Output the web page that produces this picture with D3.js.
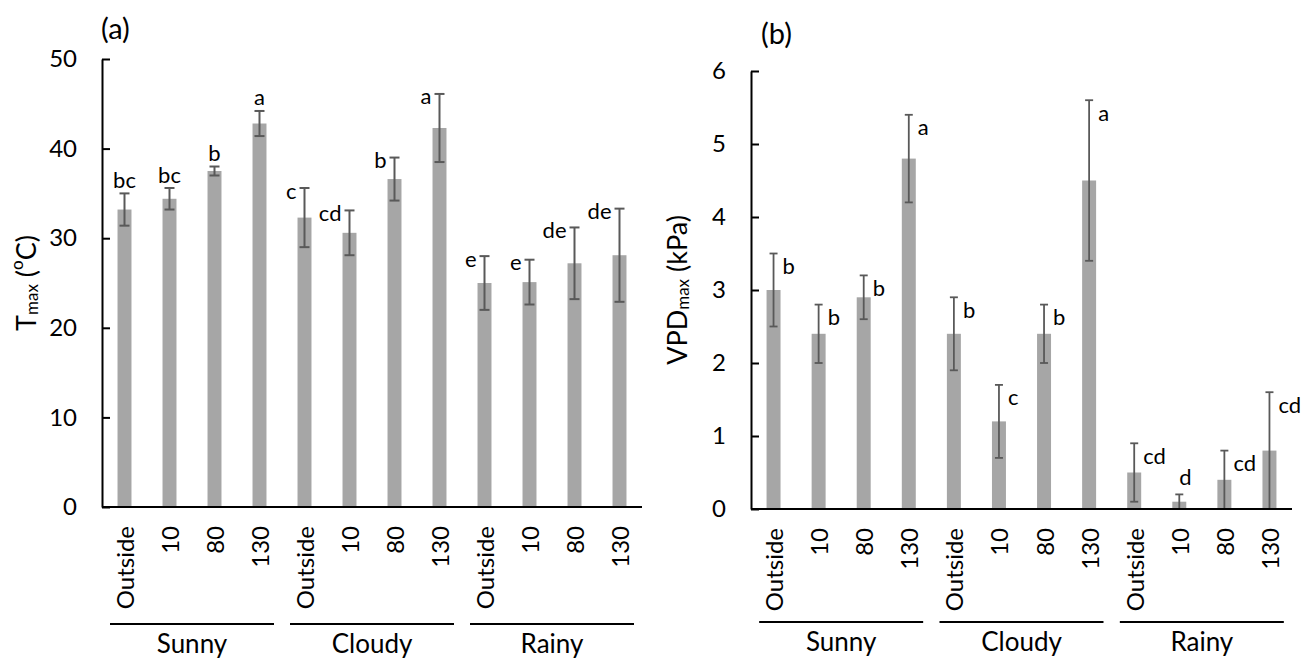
<!DOCTYPE html>
<html>
<head>
<meta charset="utf-8">
<script src="https://cdn.jsdelivr.net/npm/d3@7"></script>
<style>
  body { margin: 0; background: #fff; }
  text { font-family: Lato, "Open Sans", sans-serif; fill: #000; }
</style>
</head>
<body>
<script>
// categories
const conditions = ['Sunny', 'Cloudy', 'Rainy'];
const heights = ['Outside', '10', '80', '130'];

// panel (a) Tmax (oC)
const tmaxMean = [33.2, 34.4, 37.5, 42.8, 32.3, 30.6, 36.6, 42.3, 25.0, 25.1, 27.2, 28.1];
const tmaxErr  = [1.8, 1.2, 0.5, 1.4, 3.3, 2.5, 2.4, 3.8, 3.0, 2.5, 4.0, 5.2];
const tmaxLetters = ['bc', 'bc', 'b', 'a', 'c', 'cd', 'b', 'a', 'e', 'e', 'de', 'de'];
const tmaxTicks = [0, 10, 20, 30, 40, 50];

// panel (b) VPDmax (kPa)
const vpdMean = [3.0, 2.4, 2.9, 4.8, 2.4, 1.2, 2.4, 4.5, 0.5, 0.1, 0.4, 0.8];
const vpdErr  = [0.5, 0.4, 0.3, 0.6, 0.5, 0.5, 0.4, 1.1, 0.4, 0.1, 0.4, 0.8];
const vpdLetters = ['b', 'b', 'b', 'a', 'b', 'c', 'b', 'a', 'cd', 'd', 'cd', 'cd'];
const vpdTicks = [0, 1, 2, 3, 4, 5, 6];

const width = 1302, height = 660;

const svg = d3.select('body').append('svg')
    .attr('width', width)
    .attr('height', height);

// one key per bar: condition|height
const keys = [];
conditions.forEach(c => heights.forEach(h => keys.push(c + '|' + h)));

function drawPanel(opt) {
  const g = svg.append('g');

  const x = d3.scaleBand()
      .domain(keys)
      .range([opt.left, opt.right])
      .paddingInner(0.69)
      .paddingOuter(0.345);

  const y = d3.scaleLinear()
      .domain([0, d3.max(opt.ticks)])
      .range([opt.bottom, opt.top]);

  const cx = k => x(k) + x.bandwidth() / 2;

  const data = keys.map((k, i) => ({
    key: k,
    group: Math.floor(i / heights.length),
    label: heights[i % heights.length],
    mean: opt.mean[i],
    err: opt.err[i],
    letter: opt.letters[i]
  }));

  // bars
  g.selectAll('rect.bar')
    .data(data)
    .join('rect')
      .attr('class', 'bar')
      .attr('x', d => x(d.key))
      .attr('width', x.bandwidth())
      .attr('y', d => y(d.mean))
      .attr('height', d => y(0) - y(d.mean))
      .attr('fill', '#a6a6a6');

  // error bars
  const eb = g.selectAll('g.err')
    .data(data)
    .join('g')
      .attr('class', 'err')
      .attr('stroke', '#595959')
      .attr('stroke-width', opt.errWidth);

  eb.append('line')
      .attr('x1', d => cx(d.key)).attr('x2', d => cx(d.key))
      .attr('y1', d => y(d.mean + d.err))
      .attr('y2', d => y(Math.max(0, d.mean - d.err)));
  eb.append('line')
      .attr('x1', d => cx(d.key) - opt.cap / 2).attr('x2', d => cx(d.key) + opt.cap / 2)
      .attr('y1', d => y(d.mean + d.err)).attr('y2', d => y(d.mean + d.err));
  eb.filter(d => d.mean - d.err > 0.05 * d3.max(opt.ticks) / 6)
    .append('line')
      .attr('x1', d => cx(d.key) - opt.cap / 2).attr('x2', d => cx(d.key) + opt.cap / 2)
      .attr('y1', d => y(d.mean - d.err)).attr('y2', d => y(d.mean - d.err));

  // significance letters
  g.selectAll('text.letter')
    .data(data)
    .join('text')
      .attr('class', 'letter')
      .attr('font-size', 22)
      .attr('dominant-baseline', 'central')
      .each(function(d) {
        const p = opt.place(d);
        d3.select(this)
          .attr('x', cx(d.key) + p.dx)
          .attr('y', y(d.mean + d.err) + p.dy)
          .attr('text-anchor', p.anchor);
      })
      .text(d => d.letter);

  // y axis, ticks pointing inward
  const yAxis = d3.axisLeft(y)
      .tickValues(opt.ticks)
      .tickFormat(d3.format('d'))
      .tickSizeInner(-8)
      .tickSizeOuter(0)
      .tickPadding(25);

  const ya = g.append('g')
      .attr('transform', `translate(${opt.left},0)`)
      .call(yAxis);
  ya.select('.domain').attr('stroke', '#000').attr('stroke-width', 2);
  ya.selectAll('.tick line').attr('stroke', '#000').attr('stroke-width', 2);
  ya.selectAll('.tick text')
      .attr('font-size', 24)
      .attr('font-family', 'Lato, sans-serif')
      .attr('fill', '#000');

  // x axis line
  g.append('line')
      .attr('x1', opt.left).attr('x2', opt.right)
      .attr('y1', y(0)).attr('y2', y(0))
      .attr('stroke', '#000').attr('stroke-width', 2);

  // rotated category labels
  g.selectAll('text.cat')
    .data(data)
    .join('text')
      .attr('class', 'cat')
      .attr('font-size', 24)
      .attr('text-anchor', 'end')
      .attr('dominant-baseline', 'central')
      .attr('transform', d => `translate(${cx(d.key)},${opt.bottom + 19}) rotate(-90)`)
      .text(d => d.label);

  // group lines and names
  conditions.forEach((c, gi) => {
    const first = cx(c + '|' + heights[0]);
    const last = cx(c + '|' + heights[heights.length - 1]);
    const mid = (first + last) / 2;
    g.append('line')
        .attr('x1', mid - 82).attr('x2', mid + 82)
        .attr('y1', opt.lineY).attr('y2', opt.lineY)
        .attr('stroke', '#000').attr('stroke-width', 2);
    g.append('text')
        .attr('x', mid)
        .attr('y', opt.lineY + 19)
        .attr('font-size', 26)
        .attr('text-anchor', 'middle')
        .attr('dominant-baseline', 'central')
        .text(c);
  });

  // y axis title with subscript
  const t = g.append('text')
      .attr('transform', `translate(${opt.titleX},${(opt.top + opt.bottom) / 2}) rotate(-90)`)
      .attr('text-anchor', 'middle')
      .attr('dominant-baseline', 'central')
      .attr('font-size', 27);
  opt.title(t);

  // panel tag
  g.append('text')
      .attr('x', opt.tagX)
      .attr('y', opt.tagY)
      .attr('font-size', 29)
      .attr('dominant-baseline', 'central')
      .text(opt.tag);
}

drawPanel({
  left: 102, right: 642, top: 59, bottom: 507,
  ticks: tmaxTicks, mean: tmaxMean, err: tmaxErr, letters: tmaxLetters,
  errWidth: 2, cap: 10, lineY: 624,
  titleX: 25, tagX: 101, tagY: 27, tag: '(a)',
  place: d => d.group === 0
    ? { dx: 0, dy: -14, anchor: 'middle' }
    : { dx: -8, dy: 2, anchor: 'end' },
  title: t => {
    t.append('tspan').text('T');
    t.append('tspan').attr('font-size', 17).attr('dy', 6).text('max');
    t.append('tspan').attr('dy', -6).text(' (');
    t.append('tspan').attr('font-size', 17).attr('dy', -9).text('o');
    t.append('tspan').attr('dy', 9).text('C)');
  }
});

drawPanel({
  left: 751, right: 1292, top: 71, bottom: 509,
  ticks: vpdTicks, mean: vpdMean, err: vpdErr, letters: vpdLetters,
  errWidth: 1.8, cap: 8, lineY: 622,
  titleX: 676, tagX: 761, tagY: 32, tag: '(b)',
  place: d => d.mean + d.err < 0.3
    ? { dx: 6, dy: -18, anchor: 'middle' }
    : { dx: 9, dy: 12, anchor: 'start' },
  title: t => {
    t.append('tspan').text('VPD');
    t.append('tspan').attr('font-size', 17).attr('dy', 6).text('max');
    t.append('tspan').attr('dy', -6).text(' (kPa)');
  }
});
</script>
</body>
</html>
